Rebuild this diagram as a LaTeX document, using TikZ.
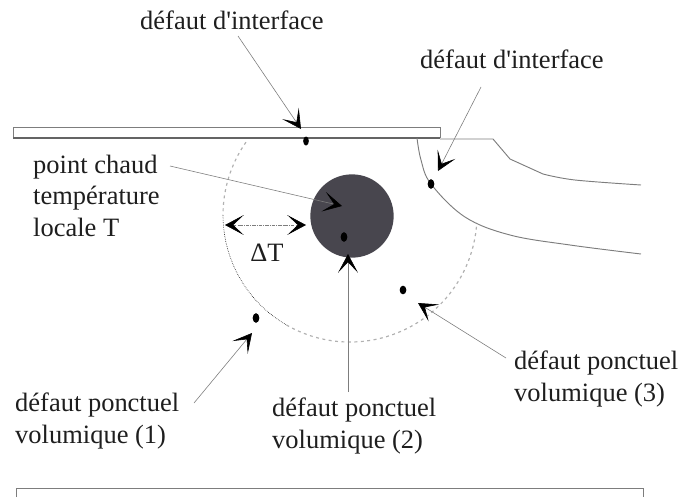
\documentclass[tikz,border=0pt]{standalone}
\usepackage{fontspec}
\newfontfamily\lblfont{Liberation Serif}
\usetikzlibrary{arrows.meta, shapes.geometric}
\definecolor{ink}{RGB}{30,30,30}
\definecolor{ligne}{RGB}{125,125,125}
\definecolor{chaud}{RGB}{72,70,78}
\tikzset{
  lbl/.style={font=\lblfont\fontsize{22.6}{26.8}\selectfont, text=ink, align=left, inner sep=0pt},
  ar/.style={-{Stealth[length=16pt, width=17pt, inset=9pt, color=black]}, line width=0.5pt, draw=ligne},
  ardb/.style={{Stealth[length=16pt, width=17pt, inset=9pt, color=black]}-{Stealth[length=16pt, width=17pt, inset=9pt, color=black]},
               line width=0.5pt, draw=ligne, densely dashdotted},
  % défaut (point noir)
  pt/.style={ellipse, fill=black, minimum width=0.2cm, minimum height=0.29cm, inner sep=0pt},
  film/.style={line width=0.8pt, draw=ligne},
  zone/.style={line width=1pt, draw=ligne!60, dash pattern=on 2.5pt off 3pt},
  zonen/.style={line width=0.5pt, draw=black, densely dotted}
}
\begin{document}
\begin{tikzpicture}[x=0.03cm,y=-0.03cm]
    \useasboundingbox (0,0) rectangle (682,497);

    % ---- couche superieure et interface ----
    \draw[film] (13,138) -- (13,127) -- (440,127) -- (440,138);
    \draw[line width=1.1pt, draw=ligne!80!black] (13,138) -- (440,138);
    \draw[film] (440,139) -- (493,139) -- (510,159) -- (543,174);
    \draw[film] plot[smooth, tension=0.6] coordinates {(543,174) (575,180) (641,185)};
    \draw[film] plot[smooth, tension=0.6] coordinates {(417,138) (421,160) (431,184) (465,217) (510,235) (570,245) (641,254)};

    % ---- zone autour du point chaud ----
    \draw[zone] (350,215) ++(215:127) arc[start angle=215, end angle=180, radius=127];
    \draw[zonen] (350,215) ++(180:127) arc[start angle=180, end angle=120, radius=127];
    \draw[zone] (350,215) ++(120:127) arc[start angle=120, end angle=3.6, radius=127];
    \node[circle, fill=chaud, minimum size=2.5cm, inner sep=0pt] (spot) at (352,216) {};

    % ---- defauts ----
    \node[pt, minimum width=0.17cm, minimum height=0.27cm] (d0) at (306,141) {};
    \node[pt] (d1) at (431,184) {};
    \node[pt] (d2) at (344,237) {};
    \node[pt, minimum height=0.26cm] (d3) at (403,290) {};
    \node[pt] (d4) at (256,318) {};

    % ---- textes ----
    \node[lbl, anchor=base west] (if1) at (140,29) {défaut d'interface};
    \node[lbl, anchor=base west] (if2) at (420,68) {défaut d'interface};
    \node[lbl, anchor=base west] (hot) at (33,236) {point chaud\\température\\locale T};
    \node[lbl, anchor=base] (dT) at (267,261) {ΔT};
    \node[lbl, anchor=base west] (v1) at (15,443) {défaut ponctuel\\volumique (1)};
    \node[lbl, anchor=base west] (v2) at (272,448) {défaut ponctuel\\volumique (2)};
    \node[lbl, anchor=base west] (v3) at (514,401) {défaut ponctuel\\volumique (3)};

    % ---- fleches ----
    \coordinate (s0) at (238,36);  \coordinate (t0) at (301,129);
    \coordinate (s1) at (481,87);  \coordinate (t1) at (438,171);
    \coordinate (s2) at (170,166); \coordinate (t2) at (342,206);
    \coordinate (s3) at (348,392); \coordinate (t3) at (348,254);
    \coordinate (s4) at (506,358); \coordinate (t4) at (418,303);
    \coordinate (s5) at (194,403); \coordinate (t5) at (252,333);
    \coordinate (g) at (225,225);  \coordinate (h) at (306,225);
    \draw[ar] (s0) -- (t0);
    \draw[ar] (s1) -- (t1);
    \draw[ar] (s2) -- (t2);
    \draw[ar] (s3) -- (t3);
    \draw[ar] (s4) -- (t4);
    \draw[ar] (s5) -- (t5);
    \draw[ardb] (g) -- (h);

    % ---- couche inferieure ----
    \draw[film] (16,497) -- (16,488) -- (643,488) -- (643,497);
\end{tikzpicture}
\end{document}
